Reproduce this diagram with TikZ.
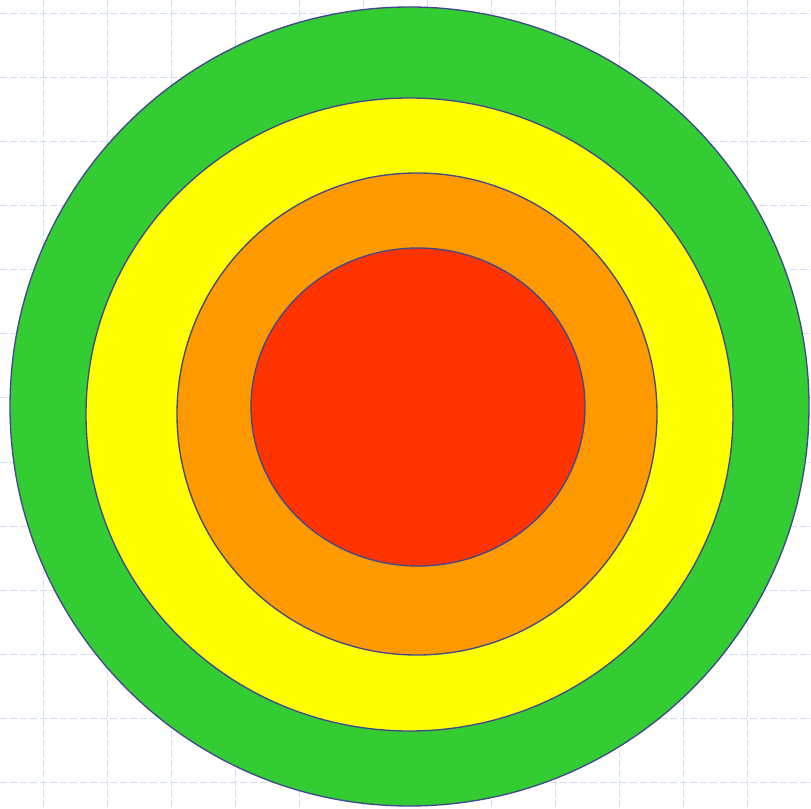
\documentclass[tikz,border=0pt]{standalone}
\usetikzlibrary{positioning}
\definecolor{ringline}{RGB}{66,72,140}
\definecolor{gridblue}{RGB}{208,220,250}
\definecolor{ringgreen}{RGB}{51,204,51}
\definecolor{ringyellow}{RGB}{255,255,0}
\definecolor{ringorange}{RGB}{255,153,0}
\definecolor{ringred}{RGB}{255,51,0}

\begin{document}
\begin{tikzpicture}[x=0.75pt,y=-0.75pt]
			\useasboundingbox (0,0) rectangle (811,809);
			% background grid
			\begin{scope}[draw=gridblue,line width=0.75pt,dash pattern=on 5pt off 2.5pt]
			\foreach \i in {43,107,...,811}
			\draw (\i,0)--(\i,809);
			\foreach \i in {14,78,...,782}
			\draw (0,\i)--(811,\i);
			\end{scope}
			
			% rings
			\begin{scope}[draw=ringline,line width=1pt]
			\filldraw[fill=ringgreen] (409.5,406.5) ellipse (399.5 and 399.5);
			\filldraw[fill=ringyellow] (409.5,414.5) ellipse (323.5 and 316.5);
			\filldraw[fill=ringorange] (417,414) ellipse (240 and 241);
			\filldraw[fill=ringred] (418,407) ellipse (167 and 159);
			\end{scope}
\end{tikzpicture}
\end{document}
